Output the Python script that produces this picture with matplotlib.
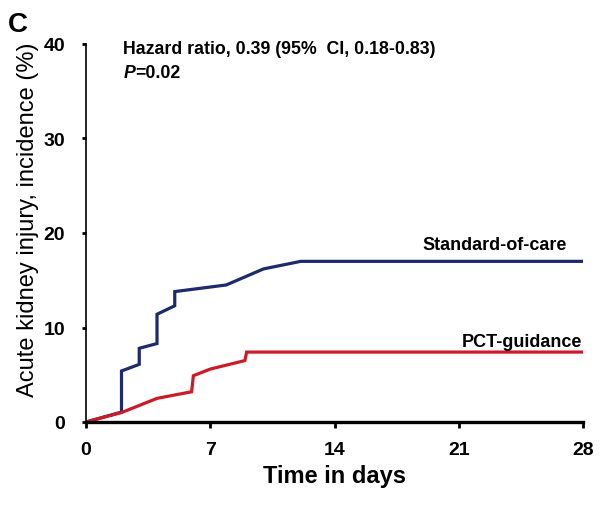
import matplotlib.pyplot as plt
import numpy as np

plt.rcParams['font.family'] = ['Liberation Sans', 'DejaVu Sans']

# cumulative incidence curves (day, %)
soc_days = [0, 2.0, 2.0, 3.0, 3.0, 4.0, 4.0, 5.0, 5.0, 7.9, 10.0, 12.1, 28]
soc_inc = [0, 1.05, 5.4, 6.1, 7.8, 8.3, 11.4, 12.3, 13.8, 14.5, 16.2, 17.0, 17.0]

pct_days = [0, 2.0, 4.0, 5.95, 6.05, 7.0, 8.95, 9.05, 28]
pct_inc = [0, 1.0, 2.5, 3.2, 4.9, 5.6, 6.5, 7.4, 7.4]

xticks = [0, 7, 14, 21, 28]
yticks = [0, 10, 20, 30, 40]

fig = plt.figure(figsize=(6.05, 5.06), dpi=100)
ax = fig.add_axes([86/605, 83/506, 497/605, 378/506])

ax.plot(soc_days, soc_inc, color='#1c2a6e', lw=2.3, solid_joinstyle='miter')
ax.plot(pct_days, pct_inc, color='#cc1a26', lw=2.3, solid_joinstyle='miter')

ax.set_xlim(0, 28)
ax.set_ylim(0, 40)
ax.set_xticks(xticks)
ax.set_yticks(yticks)
ax.spines['top'].set_visible(False)
ax.spines['right'].set_visible(False)
ax.spines['left'].set_linewidth(1.2)
ax.spines['bottom'].set_linewidth(2.4)
ax.tick_params(axis='x', direction='out', length=4, width=2, pad=10)
ax.tick_params(axis='y', direction='out', length=3, width=2, pad=12)
for lab in ax.get_xticklabels() + ax.get_yticklabels():
    lab.set_fontsize(14)
    lab.set_fontweight('bold')

ax.set_xlabel('Time in days', fontsize=17, fontweight='bold', labelpad=4)
ax.set_ylabel('Acute kidney injury, incidence (%)', fontsize=17, va='center')
ax.yaxis.set_label_coords(-0.117, 0.537)

ax.text(2.1, 39.5, 'Hazard ratio, 0.39 (95%  CI, 0.18-0.83)', fontsize=12.8,
        fontweight='bold', va='center')
ptxt = ax.text(2.1, 37.0, 'P', fontsize=12.8, fontweight='bold',
               fontstyle='italic', va='center')
ax.annotate('=0.02', xy=(1, 0.5), xycoords=ptxt, fontsize=12.8,
            fontweight='bold', va='center')

ax.text(27.1, 18.8, 'Standard-of-care', fontsize=13, fontweight='bold',
        ha='right', va='center')
ax.text(27.95, 8.5, 'PCT-guidance', fontsize=13, fontweight='bold',
        ha='right', va='center')

fig.text(8/605, 1 - 25/506, 'C', fontsize=20, fontweight='bold', va='center')

plt.savefig('out.png', dpi=100)
